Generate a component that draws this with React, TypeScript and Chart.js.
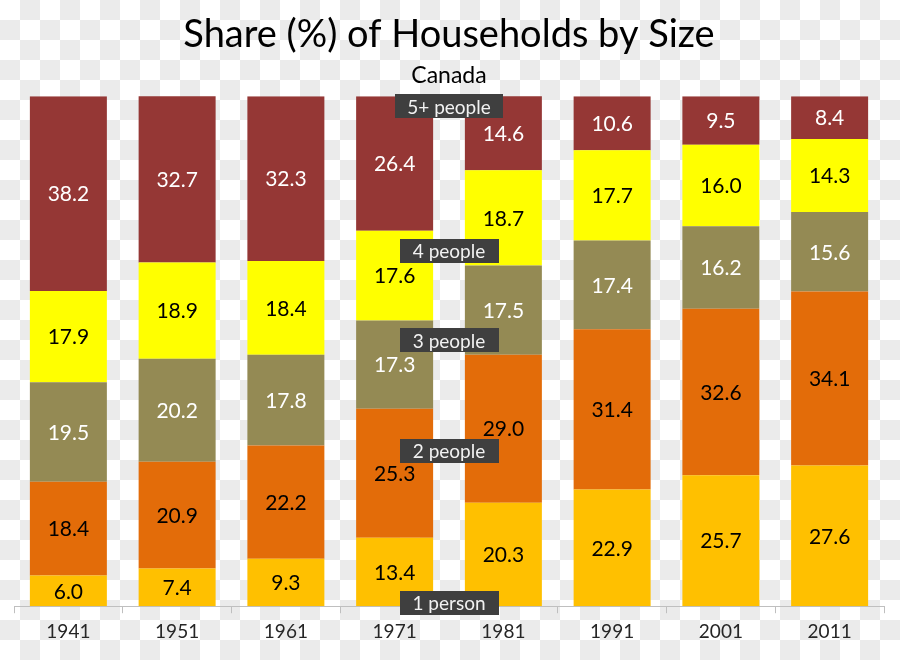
import React, { useEffect, useRef } from "react";
import { Chart, registerables } from "chart.js";

Chart.register(...registerables);

const years = ["1941", "1951", "1961", "1971", "1981", "1991", "2001", "2011"];
const onePerson = [6.0, 7.4, 9.3, 13.4, 20.3, 22.9, 25.7, 27.6];
const twoPeople = [18.4, 20.9, 22.2, 25.3, 29.0, 31.4, 32.6, 34.1];
const threePeople = [19.5, 20.2, 17.8, 17.3, 17.5, 17.4, 16.2, 15.6];
const fourPeople = [17.9, 18.9, 18.4, 17.6, 18.7, 17.7, 16.0, 14.3];
const fivePlus = [38.2, 32.7, 32.3, 26.4, 14.6, 10.6, 9.5, 8.4];

const seriesNames = ["1 person", "2 people", "3 people", "4 people", "5+ people"];
const seriesColors = ["#FFC000", "#E36C09", "#948A54", "#FFFF00", "#953735"];
const valueTextColors = ["#000000", "#000000", "#FFFFFF", "#000000", "#FFFFFF"];
// vertical position (in % units) of each series name tag, placed between 1971 and 1981
const seriesTagPositions = [0.7, 30.5, 52.1, 69.7, 98.0];

const FONT = "Lato, 'Open Sans', sans-serif";

const valueLabelPlugin = {
  id: "valueLabels",
  afterDatasetsDraw(chart: any) {
    const ctx = chart.ctx;
    ctx.save();
    ctx.font = `21px ${FONT}`;
    ctx.textAlign = "center";
    ctx.textBaseline = "middle";
    chart.data.datasets.forEach((ds: any, di: number) => {
      const meta = chart.getDatasetMeta(di);
      meta.data.forEach((bar: any, i: number) => {
        const v = ds.data[i];
        const props = bar.getProps(["x", "y", "base"], true);
        const cy = (props.y + props.base) / 2;
        ctx.fillStyle = valueTextColors[di];
        ctx.fillText(v.toFixed(1), props.x, cy + 1);
      });
    });
    ctx.restore();
  },
};

const seriesTagPlugin = {
  id: "seriesTags",
  afterDraw(chart: any) {
    const ctx = chart.ctx;
    const xs = chart.scales.x;
    const ys = chart.scales.y;
    const cx = (xs.getPixelForValue(3) + xs.getPixelForValue(4)) / 2;
    ctx.save();
    ctx.font = `19px ${FONT}`;
    ctx.textAlign = "center";
    ctx.textBaseline = "middle";
    seriesNames.forEach((name, i) => {
      const cy = ys.getPixelForValue(seriesTagPositions[i]);
      const w = Math.max(ctx.measureText(name).width + 24, 99);
      const h = 24;
      ctx.fillStyle = "#3F3F3F";
      ctx.fillRect(Math.round(cx - w / 2), Math.round(cy - h / 2), Math.round(w), h);
      ctx.fillStyle = "#F2F2F2";
      ctx.fillText(name, cx, cy + 1);
    });
    ctx.restore();
  },
};

export default function App() {
  const canvasRef = useRef<HTMLCanvasElement | null>(null);

  useEffect(() => {
    if (!canvasRef.current) return;
    const seriesData = [onePerson, twoPeople, threePeople, fourPeople, fivePlus];
    const chart = new Chart(canvasRef.current, {
      type: "bar",
      data: {
        labels: years,
        datasets: seriesData.map((d, i) => ({
          label: seriesNames[i],
          data: d,
          backgroundColor: seriesColors[i],
          borderWidth: 0,
          categoryPercentage: 1,
          barPercentage: 0.708,
        })),
      },
      options: {
        animation: false,
        responsive: false,
        maintainAspectRatio: false,
        layout: { padding: { left: 14, right: 16, top: 0, bottom: 10 } },
        plugins: {
          legend: { display: false },
          tooltip: { enabled: false },
          title: {
            display: true,
            text: "Share (%) of Households by Size",
            color: "#000000",
            font: { family: FONT, size: 38, weight: "normal" },
            padding: { top: 12, bottom: 4 },
          },
          subtitle: {
            display: true,
            text: "Canada",
            color: "#000000",
            font: { family: FONT, size: 23, weight: "normal" },
            padding: { top: 0, bottom: 7 },
          },
        },
        scales: {
          x: {
            stacked: true,
            grid: {
              display: true,
              drawOnChartArea: false,
              drawTicks: true,
              tickLength: 7,
              color: "#BFBFBF",
              offset: true,
            },
            border: { display: true, color: "#BFBFBF", width: 1 },
            ticks: {
              color: "#262626",
              font: { family: FONT, size: 19 },
              padding: 7,
            },
          },
          y: {
            stacked: true,
            display: false,
            min: 0,
            max: 100,
          },
        },
      },
      plugins: [valueLabelPlugin, seriesTagPlugin],
    });
    return () => chart.destroy();
  }, []);

  return (
    <div
      style={{
        position: "fixed",
        left: 0,
        top: 0,
        width: 900,
        height: 660,
        backgroundColor: "#FFFFFF",
        backgroundImage:
          "conic-gradient(#EBEBEB 0 25%, #FFFFFF 0 50%, #EBEBEB 0 75%, #FFFFFF 0)",
        backgroundSize: "40px 40px",
      }}
    >
      <canvas ref={canvasRef} width={900} height={660} style={{ display: "block" }} />
    </div>
  );
}
